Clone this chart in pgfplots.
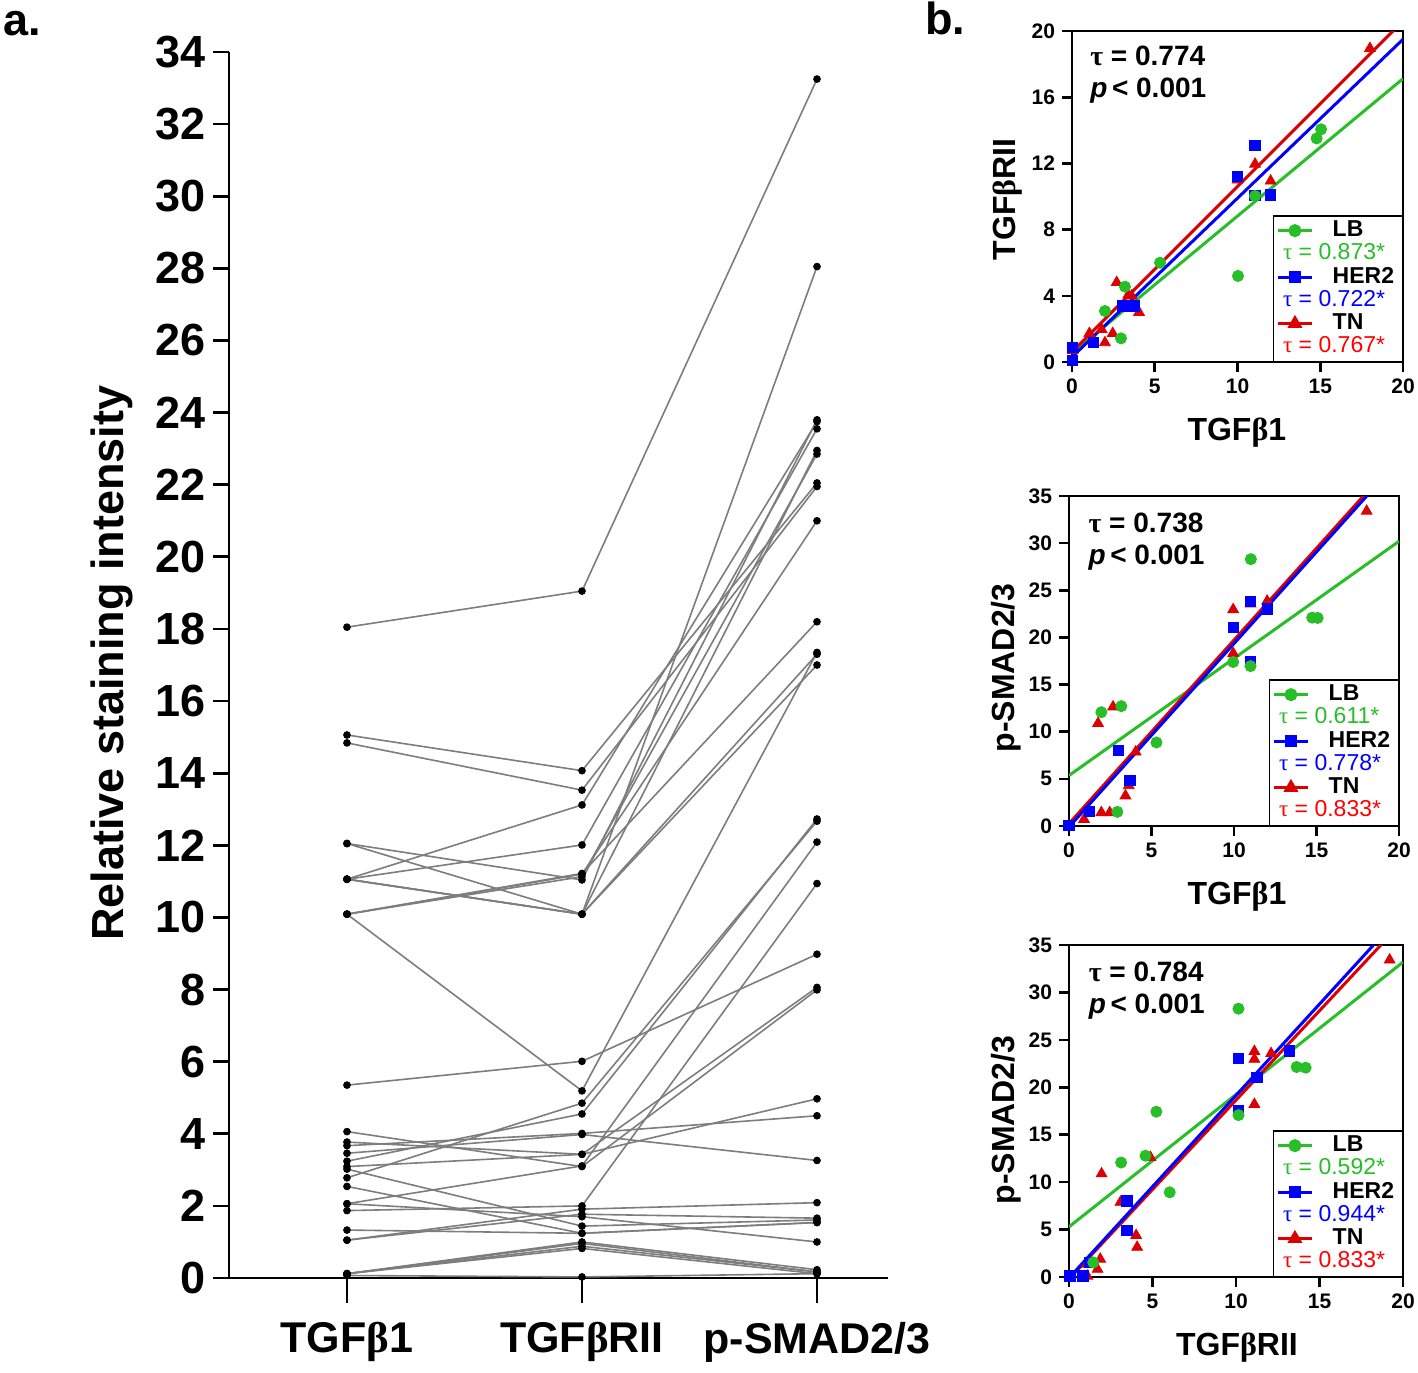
\documentclass[border=0pt]{standalone}
\usepackage{fontspec}
\setmainfont{Liberation Sans}
\newfontfamily\grk{Liberation Serif}
\usepackage{pgfplots}
\usepackage{pgfplotstable}
\pgfplotsset{compat=1.18}
\definecolor{lbg}{RGB}{40,190,40}
\definecolor{hb}{RGB}{0,0,255}
\definecolor{tnr}{RGB}{220,0,0}
\definecolor{tnrt}{RGB}{255,0,0}
\definecolor{lg}{RGB}{125,125,125}
\newcommand{\bet}{{\grk β}}
\newcommand{\ta}{{\grk τ}}

\pgfplotstableread{
t1 r2 ps
18.05 19.05 33.25
15.06 14.07 22.05
14.84 13.53 21.95
11.06 10.09 28.05
11.06 10.09 17.0
10.09 5.19 17.35
11.06 13.12 23.75
10.09 11.20 21.0
11.06 10.09 17.3
12.05 10.09 22.95
11.06 12.01 23.55
12.05 11.04 23.8
10.09 11.13 22.85
10.09 11.22 18.2
5.35 6.01 8.98
3.24 4.55 12.73
2.06 3.11 12.09
3.02 1.44 1.61
3.09 3.43 8.06
3.77 3.43 4.97
1.33 1.24 1.54
0.12 0.88 0.17
0.07 0.03 0.12
2.78 4.85 12.67
1.87 2.00 10.94
4.06 3.09 7.99
3.67 4.01 4.50
3.46 3.98 3.26
2.06 1.70 1.00
2.54 1.24 1.54
1.05 1.77 1.66
1.05 1.91 2.09
0.12 1.00 0.23
0.12 0.96 0.17
0.12 0.82 0.12
}\pdata

\pgfplotsset{
  bstyle/.style={
    scale only axis, xmin=0, xmax=20, ymin=0,
    axis line style={line width=1.3pt},
    tick align=outside, xtick pos=left, ytick pos=left,
    major tick length=5pt,
    tick style={line width=1.3pt, black},
    ticklabel style={font=\fontsize{10.5}{12}\selectfont\bfseries},
    /pgf/number format/assume math mode=true,
    clip mode=individual,
    xtick={0,5,10,15,20},
    label style={font=\fontsize{16}{18}\selectfont\bfseries},
    legend cell align=left,
    legend style={at={(rel axis cs:1,0)}, anchor=south east, draw=black, line width=0.75pt,
      font=\fontsize{11.5}{12}\selectfont, inner sep=1.5pt, row sep=0pt, column sep=0pt,
      nodes={inner sep=0.6pt, text height=8.2pt, text depth=2.2pt}},
  },
  lbm/.style={only marks, mark=*, mark size=2.8pt, color=lbg, forget plot},
  hbm/.style={only marks, mark=square*, mark size=2.6pt, color=hb, forget plot},
  tnm/.style={only marks, mark=triangle*, mark size=3.1pt, color=tnr, forget plot},
  lbl/.style={lbg, line width=1.5pt, no marks, forget plot},
  hbl/.style={hb, line width=1.5pt, no marks, forget plot},
  tnl/.style={tnr, line width=1.5pt, no marks, forget plot},
}

\begin{document}
\begin{tikzpicture}
\useasboundingbox (0pt,0pt) rectangle (709pt,-686pt);
\node[anchor=base west, font=\fontsize{22.5}{26}\selectfont\bfseries, inner sep=0pt] at (1.5pt,-17.5pt) {a.};
\node[anchor=base west, font=\fontsize{22.5}{26}\selectfont\bfseries, inner sep=0pt] at (462.5pt,-17pt) {b.};

% ---------------- panel a ----------------
\begin{axis}[
  at={(114.5pt,-639pt)}, anchor=south west,
  scale only axis, width=329.25pt, height=613pt,
  xmin=-0.502, xmax=2.30, ymin=0, ymax=34,
  axis x line*=bottom, axis y line*=left,
  axis line style={line width=1.35pt,-},
  tick align=outside, major tick length=8pt,
  tick style={line width=1.35pt, black},
  ytick={0,2,...,34},
  xtick=\empty,
  extra x ticks={0,1,2},
  extra x tick labels={TGF\bet1, TGF\bet RII, p-SMAD2/3},
  extra x tick style={major tick length=12.5pt, tick style={line width=1.35pt, black},
     tick label style={font=\fontsize{21.5}{24}\selectfont\bfseries, yshift=-6pt}},
  yticklabel style={font=\fontsize{22.5}{26}\selectfont\bfseries},
  /pgf/number format/assume math mode=true,
  clip=false,
  ylabel={Relative staining intensity},
  ylabel style={font=\fontsize{22.5}{26}\selectfont\bfseries, at={(axis description cs:-0.1777,0.5016)}, anchor=center},
]
\pgfplotstablegetrowsof{\pdata}
\pgfmathtruncatemacro{\N}{\pgfplotsretval-1}
\pgfplotsforeachungrouped \i in {0,...,\N}{
  \pgfplotstablegetelem{\i}{t1}\of\pdata \let\va\pgfplotsretval
  \pgfplotstablegetelem{\i}{r2}\of\pdata \let\vb\pgfplotsretval
  \pgfplotstablegetelem{\i}{ps}\of\pdata \let\vc\pgfplotsretval
  \edef\temp{\noexpand\addplot[lg, line width=0.8pt, no marks] coordinates {(0,\va) (1,\vb) (2,\vc)};}
  \temp
}
\addplot[only marks, mark=*, mark size=1.7pt, black] table[x expr=0, y=t1] {\pdata};
\addplot[only marks, mark=*, mark size=1.7pt, black] table[x expr=1, y=r2] {\pdata};
\addplot[only marks, mark=*, mark size=1.7pt, black] table[x expr=2, y=ps] {\pdata};
\end{axis}

% ---------------- panel b, plot 1 ----------------
\begin{axis}[bstyle,
  at={(536pt,-181pt)}, anchor=south west, width=165.5pt, height=165.5pt,
  ymax=20, ytick={0,4,...,20},
  xlabel={TGF\bet1}, ylabel={TGF\bet RII},
  xlabel style={at={(axis description cs:0.498,-0.236)}, anchor=base},
  ylabel style={at={(axis description cs:-0.172,0.492)}, anchor=base},
]
\addplot[lbl] coordinates {(0,0.52) (20,17.12)};
\addplot[hbl] coordinates {(0,0.30) (20,19.50)};
\addplot[tnl] coordinates {(0,0.60) (20,20.60)};
\addplot[tnm] coordinates {(18,18.95) (11.06,11.96) (12,10.94) (10,11.0) (2.7,4.81) (3.4,4.05) (3.6,4.0) (4.05,3.0) (1.05,1.73) (1.79,1.97) (2.46,1.73) (1.99,1.17) (0.04,0.7)};
\addplot[hbm] coordinates {(11.04,13.09) (10.01,11.2) (11.06,10.05) (12.0,10.09) (3.04,3.4) (3.75,3.4) (1.29,1.17) (0.04,0.87) (0.04,0.08)};
\addplot[lbm] coordinates {(15.05,14.06) (14.78,13.51) (11.06,10.03) (5.32,6.0) (10.03,5.2) (3.2,4.55) (1.99,3.08) (2.96,1.43)};
\node[anchor=north west, align=left, inner sep=0pt, font=\fontsize{14}{16}\selectfont\bfseries] at (rel axis cs:0.054,0.955) {\ta{} = 0.774\\\textit{p}\,< 0.001};
\addlegendimage{lbg, line width=1.5pt, mark=*, mark size=2.5pt}
\addlegendentry{\hspace*{9pt}\textbf{LB}}
\addlegendimage{empty legend}
\addlegendentry{\hspace*{-15.8pt}\textcolor{lbg}{\ta{} = 0.873*}}
\addlegendimage{hb, line width=1.5pt, mark=square*, mark size=2.4pt}
\addlegendentry{\hspace*{9pt}\textbf{HER2}\hspace*{2pt}}
\addlegendimage{empty legend}
\addlegendentry{\hspace*{-15.8pt}\textcolor{hb}{\ta{} = 0.722*}}
\addlegendimage{tnr, line width=1.5pt, mark=triangle*, mark size=2.8pt}
\addlegendentry{\hspace*{9pt}\textbf{TN}}
\addlegendimage{empty legend}
\addlegendentry{\hspace*{-15.8pt}\textcolor{tnrt}{\ta{} = 0.767*}}
\end{axis}

% ---------------- panel b, plot 2 ----------------
\begin{axis}[bstyle,
  at={(534.5pt,-413pt)}, anchor=south west, width=165pt, height=165pt,
  ymax=35, ytick={0,5,...,35},
  xlabel={TGF\bet1}, ylabel={p-SMAD2/3},
  xlabel style={at={(axis description cs:0.509,-0.239)}, anchor=base},
  ylabel style={at={(axis description cs:-0.164,0.479)}, anchor=base},
]
\addplot[lbl] coordinates {(0,5.36) (20,30.2)};
\addplot[tnl] coordinates {(0,0.25) (20,39.2)};
\addplot[hbl] coordinates {(0,-0.1) (20,38.8)};
\addplot[tnm] coordinates {(18.04,33.4) (9.95,22.96) (11,23.57) (12.01,23.86) (9.95,18.32) (2.67,12.64) (1.76,10.89) (4.04,7.86) (3.62,4.29) (3.42,3.21) (1.96,1.43) (2.47,1.43) (0.91,0.71)};
\addplot[hbm] coordinates {(11,23.82) (12.01,23.04) (9.95,21.07) (11,17.43) (2.99,8.04) (3.7,4.82) (1.25,1.54) (0,0.07)};
\addplot[lbm] coordinates {(11.02,28.3) (14.74,22.1) (15.07,22.07) (9.95,17.4) (11,16.96) (1.96,12.07) (3.17,12.71) (5.3,8.86) (2.93,1.5)};
\node[anchor=north west, align=left, inner sep=0pt, font=\fontsize{14}{16}\selectfont\bfseries] at (rel axis cs:0.058,0.95) {\ta{} = 0.738\\\textit{p}\,< 0.001};
\addlegendimage{lbg, line width=1.5pt, mark=*, mark size=2.5pt}
\addlegendentry{\hspace*{9pt}\textbf{LB}}
\addlegendimage{empty legend}
\addlegendentry{\hspace*{-15.8pt}\textcolor{lbg}{\ta{} = 0.611*}}
\addlegendimage{hb, line width=1.5pt, mark=square*, mark size=2.4pt}
\addlegendentry{\hspace*{9pt}\textbf{HER2}\hspace*{2pt}}
\addlegendimage{empty legend}
\addlegendentry{\hspace*{-15.8pt}\textcolor{hb}{\ta{} = 0.778*}}
\addlegendimage{tnr, line width=1.5pt, mark=triangle*, mark size=2.8pt}
\addlegendentry{\hspace*{9pt}\textbf{TN}}
\addlegendimage{empty legend}
\addlegendentry{\hspace*{-15.8pt}\textcolor{tnrt}{\ta{} = 0.833*}}
\end{axis}

% ---------------- panel b, plot 3 ----------------
\begin{axis}[bstyle,
  at={(534.5pt,-638.5pt)}, anchor=south west, width=167pt, height=166pt,
  ymax=35, ytick={0,5,...,35},
  xlabel={TGF\bet RII}, ylabel={p-SMAD2/3},
  xlabel style={at={(axis description cs:0.503,-0.235)}, anchor=base},
  ylabel style={at={(axis description cs:-0.162,0.473)}, anchor=base},
]
\addplot[lbl] coordinates {(0,5.29) (20,33.2)};
\addplot[tnl] coordinates {(0,-0.2) (20,37.5)};
\addplot[hbl] coordinates {(0,-0.1) (20,38.4)};
\addplot[tnm] coordinates {(19.2,33.43) (11.1,23.79) (11.1,22.96) (12.1,23.57) (11.1,18.21) (4.88,12.61) (1.95,10.89) (3.08,7.89) (4.02,4.39) (4.08,3.14) (1.87,1.89) (1.71,0.82) (1.1,0.1) (1.07,1.36)};
\addplot[hbm] coordinates {(10.15,23.07) (13.2,23.86) (11.26,21.07) (10.15,17.5) (3.46,8.04) (3.46,4.93) (1.21,1.54) (0.84,0.11) (0.06,0.11)};
\addplot[lbm] coordinates {(10.15,28.29) (13.63,22.14) (14.17,22.07) (10.15,17.07) (5.23,17.43) (4.58,12.79) (3.12,12.07) (6.03,8.93) (1.45,1.54)};
\node[anchor=north west, align=left, inner sep=0pt, font=\fontsize{14}{16}\selectfont\bfseries] at (rel axis cs:0.058,0.95) {\ta{} = 0.784\\\textit{p}\,< 0.001};
\addlegendimage{lbg, line width=1.5pt, mark=*, mark size=2.5pt}
\addlegendentry{\hspace*{9pt}\textbf{LB}}
\addlegendimage{empty legend}
\addlegendentry{\hspace*{-15.8pt}\textcolor{lbg}{\ta{} = 0.592*}}
\addlegendimage{hb, line width=1.5pt, mark=square*, mark size=2.4pt}
\addlegendentry{\hspace*{9pt}\textbf{HER2}\hspace*{2pt}}
\addlegendimage{empty legend}
\addlegendentry{\hspace*{-15.8pt}\textcolor{hb}{\ta{} = 0.944*}}
\addlegendimage{tnr, line width=1.5pt, mark=triangle*, mark size=2.8pt}
\addlegendentry{\hspace*{9pt}\textbf{TN}}
\addlegendimage{empty legend}
\addlegendentry{\hspace*{-15.8pt}\textcolor{tnrt}{\ta{} = 0.833*}}
\end{axis}
\end{tikzpicture}
\end{document}
